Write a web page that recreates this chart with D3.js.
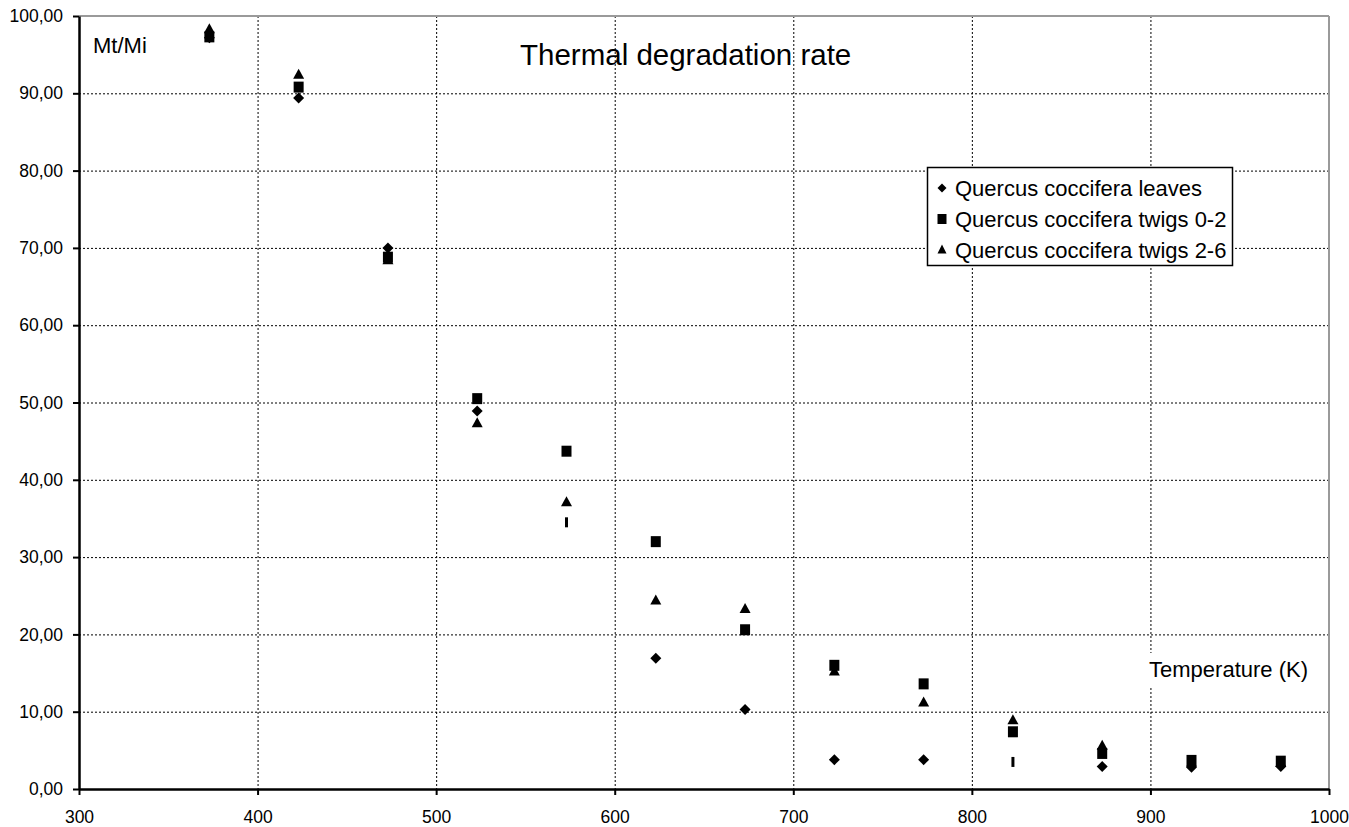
<!DOCTYPE html>
<html>
<head>
<meta charset="utf-8">
<script src="https://cdn.jsdelivr.net/npm/d3@7"></script>
<style>
  html, body { margin: 0; padding: 0; background: #fff; }
  svg { display: block; font-family: "Liberation Sans", Arial, sans-serif; }
</style>
</head>
<body>
<svg id="chart" width="1349" height="827"></svg>
<script>
// ---- data ----
const temps   = [373, 423, 473, 523, 573, 623, 673, 723, 773, 823, 873, 923, 973];
const leaves  = [97.2, 89.4, 70.0, 48.9, 34.5, 16.9, 10.3, 3.8, 3.8, 3.5, 2.9, 2.8, 2.9];
const twigs02 = [97.3, 90.8, 68.8, 50.5, 43.7, 32.0, 20.6, 16.0, 13.6, 7.4, 4.6, 3.7, 3.6];
const twigs26 = [98.3, 92.4, 68.4, 47.3, 37.1, 24.4, 23.3, 15.2, 11.2, 8.9, 5.6, 3.4, 3.4];
const thinLeafTemps = [573, 823];
const seriesNames = ["Quercus coccifera leaves", "Quercus coccifera twigs 0-2", "Quercus coccifera twigs 2-6"];
const xTicks = [300, 400, 500, 600, 700, 800, 900, 1000];
const yTicks = [0, 10, 20, 30, 40, 50, 60, 70, 80, 90, 100];

// ---- layout ----
const svg = d3.select("#chart");
const x = d3.scaleLinear().domain([300, 1000]).range([79, 1329]);
const y = d3.scaleLinear().domain([0, 100]).range([789, 16]);

// grid
const grid = svg.append("g");
grid.selectAll("line.h").data(yTicks.filter(d => d > 0 && d < 100)).join("line")
  .attr("x1", x(300)).attr("x2", x(1000))
  .attr("y1", d => y(d) + 0.5).attr("y2", d => y(d) + 0.5)
  .attr("stroke", "#000").attr("stroke-width", 1).attr("stroke-dasharray", "2,2");
grid.selectAll("line.v").data(xTicks.filter(d => d > 300 && d < 1000)).join("line")
  .attr("x1", d => x(d) + 0.5).attr("x2", d => x(d) + 0.5)
  .attr("y1", y(100)).attr("y2", y(0))
  .attr("stroke", "#000").attr("stroke-width", 1).attr("stroke-dasharray", "2,2");

// top and right borders (gray)
svg.append("line").attr("x1", x(300)).attr("x2", x(1000)).attr("y1", y(100)).attr("y2", y(100))
  .attr("stroke", "#9a9a9a").attr("stroke-width", 2);
svg.append("line").attr("x1", x(1000)).attr("x2", x(1000)).attr("y1", y(100)).attr("y2", y(0))
  .attr("stroke", "#9a9a9a").attr("stroke-width", 2);

// axes
const fmt = d => d3.format(".2f")(d).replace(".", ",");
const yAxis = svg.append("g").attr("transform", `translate(${x(300)},0)`)
  .call(d3.axisLeft(y).tickValues(yTicks).tickFormat(fmt).tickSize(6).tickSizeOuter(0).tickPadding(10));
const xAxis = svg.append("g").attr("transform", `translate(0,${y(0)})`)
  .call(d3.axisBottom(x).tickValues(xTicks).tickFormat(d3.format("d")).tickSize(6).tickSizeOuter(0).tickPadding(16));
[yAxis, xAxis].forEach(g => {
  g.select(".domain").attr("stroke", "#000").attr("stroke-width", 2.5);
  g.selectAll(".tick line").attr("stroke", "#000").attr("stroke-width", 2);
  g.selectAll(".tick text").attr("fill", "#000").style("font-size", "17.5px")
    .style("font-family", "'Liberation Sans', Arial, sans-serif");
});

// axis title box (white background, hides grid)
svg.append("rect").attr("x", 1141).attr("y", 653).attr("width", 172).attr("height", 34).attr("fill", "#fff");
svg.append("text").attr("x", 1308).attr("y", 677).attr("text-anchor", "end").text("Temperature (K)")
  .style("font-size", "22px").attr("fill", "#000");

// marker shapes
const diamond = (s) => `M0,${-s}L${s},0L0,${s}L${-s},0Z`;
const square = (w, h) => `M${-w/2},${-h/2}H${w/2}V${h/2}H${-w/2}Z`;
const triangle = (w, h) => `M0,${-h*0.6}L${w/2},${h*0.4}H${-w/2}Z`;
const thin = `M-1.5,-5H1.5V5H-1.5Z`;

const pts = svg.append("g");
// leaves
pts.selectAll("path.lv").data(temps.map((t, i) => ({t, v: leaves[i]}))).join("path")
  .attr("transform", d => `translate(${x(d.t)},${y(d.v)})`)
  .attr("d", d => thinLeafTemps.includes(d.t) ? thin : diamond(5.5))
  .attr("fill", "#000");
// twigs 2-6
pts.selectAll("path.t26").data(temps.map((t, i) => ({t, v: twigs26[i]}))).join("path")
  .attr("transform", d => `translate(${x(d.t)},${y(d.v)})`)
  .attr("d", triangle(11, 10)).attr("fill", "#000");
// twigs 0-2
pts.selectAll("path.t02").data(temps.map((t, i) => ({t, v: twigs02[i]}))).join("path")
  .attr("transform", d => `translate(${x(d.t)},${y(d.v)})`)
  .attr("d", square(10, 11)).attr("fill", "#000");

// title & labels
svg.append("text").attr("x", 520).attr("y", 65).text("Thermal degradation rate")
  .style("font-size", "29.5px").attr("fill", "#000");
svg.append("text").attr("x", 93).attr("y", 53).text("Mt/Mi")
  .style("font-size", "22px").attr("fill", "#000");

// legend
const lg = svg.append("g");
const lgX = 927, lgY = 167, lgW = 305, lgH = 98;
lg.append("rect").attr("x", lgX + 0.5).attr("y", lgY + 0.5).attr("width", lgW).attr("height", lgH)
  .attr("fill", "#fff").attr("stroke", "#000").attr("stroke-width", 1.5);
const legendShapes = [diamond(4.5), square(9, 10), triangle(9, 9)];
seriesNames.forEach((name, i) => {
  const cy = 188 + i * 31;
  lg.append("path").attr("transform", `translate(942,${cy})`).attr("d", legendShapes[i]).attr("fill", "#000");
  lg.append("text").attr("x", 955).attr("y", cy + 8).text(name)
    .style("font-size", "22px").attr("fill", "#000");
});
</script>
</body>
</html>
